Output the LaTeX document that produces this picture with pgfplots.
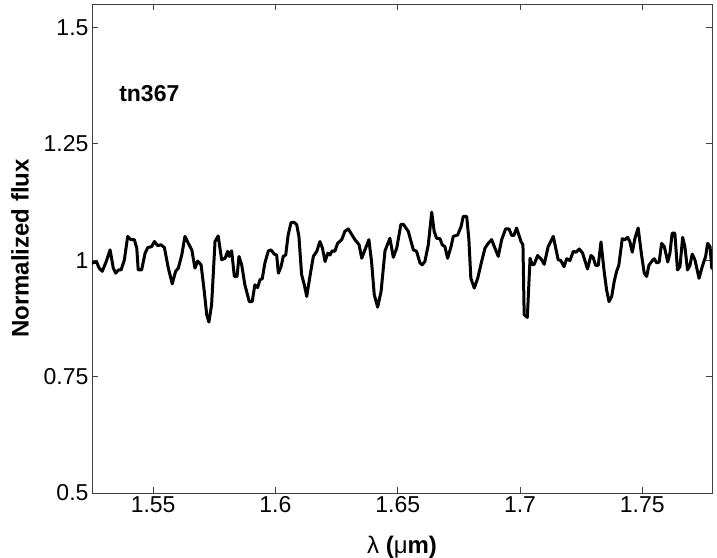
\documentclass[border=0pt]{standalone}
\usepackage{fontspec}
\setmainfont{Liberation Sans}
\usepackage{pgfplots}
\pgfplotsset{compat=1.18}

\pgfplotstableread{
x y
1.5240 0.992
1.5250 0.994
1.5269 0.996
1.5279 0.983
1.5292 0.976
1.5306 0.994
1.5324 1.022
1.5337 0.983
1.5347 0.972
1.5358 0.979
1.5369 0.979
1.5382 1.000
1.5396 1.051
1.5409 1.044
1.5423 1.044
1.5433 1.026
1.5439 0.979
1.5453 0.979
1.5467 1.015
1.5478 1.027
1.5494 1.029
1.5505 1.040
1.5519 1.031
1.5532 1.033
1.5546 1.027
1.5562 0.983
1.5578 0.949
1.5592 0.976
1.5603 0.983
1.5617 1.011
1.5630 1.051
1.5644 1.036
1.5658 1.022
1.5671 0.983
1.5682 0.998
1.5696 0.990
1.5709 0.933
1.5719 0.883
1.5728 0.867
1.5739 0.904
1.5753 1.040
1.5766 1.052
1.5780 1.001
1.5794 1.004
1.5805 1.019
1.5811 1.008
1.5821 1.020
1.5832 0.965
1.5843 0.965
1.5851 1.008
1.5862 0.990
1.5875 0.947
1.5893 0.911
1.5905 0.911
1.5916 0.947
1.5927 0.941
1.5937 0.958
1.5946 0.960
1.5957 0.994
1.5971 1.020
1.5982 1.022
1.5995 1.013
1.6005 1.011
1.6012 0.972
1.6023 0.986
1.6032 1.008
1.6042 1.011
1.6052 1.054
1.6064 1.081
1.6077 1.081
1.6087 1.076
1.6096 1.051
1.6107 0.969
1.6118 0.947
1.6128 0.922
1.6141 0.965
1.6155 1.008
1.6169 1.019
1.6182 1.040
1.6192 1.026
1.6203 0.997
1.6214 1.015
1.6223 1.011
1.6232 1.020
1.6243 1.019
1.6254 1.036
1.6271 1.044
1.6284 1.062
1.6298 1.067
1.6312 1.055
1.6325 1.044
1.6342 1.033
1.6353 1.004
1.6366 1.022
1.6382 1.044
1.6393 0.997
1.6404 0.926
1.6418 0.899
1.6432 0.933
1.6448 1.020
1.6468 1.047
1.6482 1.006
1.6496 1.026
1.6513 1.077
1.6523 1.077
1.6543 1.062
1.6564 1.022
1.6577 1.019
1.6591 0.994
1.6600 0.990
1.6611 0.997
1.6625 1.033
1.6639 1.103
1.6649 1.062
1.6659 1.047
1.6673 1.046
1.6682 1.033
1.6693 1.029
1.6704 1.004
1.6718 1.029
1.6727 1.051
1.6745 1.054
1.6759 1.072
1.6768 1.094
1.6782 1.094
1.6791 1.044
1.6799 0.961
1.6813 0.940
1.6827 0.961
1.6843 0.997
1.6857 1.026
1.6870 1.036
1.6884 1.044
1.6895 1.029
1.6911 1.008
1.6925 1.044
1.6941 1.067
1.6955 1.067
1.6966 1.053
1.6975 1.053
1.6986 1.069
1.7004 1.040
1.7012 1.033
1.7017 0.883
1.7030 0.877
1.7041 1.004
1.7050 0.990
1.7058 0.991
1.7072 1.010
1.7088 1.001
1.7099 0.991
1.7115 1.029
1.7136 1.051
1.7156 1.001
1.7167 0.999
1.7180 0.986
1.7191 1.003
1.7204 0.999
1.7218 1.019
1.7229 1.017
1.7242 1.024
1.7256 1.015
1.7276 0.981
1.7290 1.010
1.7299 1.006
1.7309 0.989
1.7320 0.989
1.7331 1.039
1.7344 0.976
1.7354 0.936
1.7364 0.911
1.7375 0.922
1.7385 0.954
1.7395 0.976
1.7404 0.989
1.7418 1.046
1.7429 1.044
1.7440 1.049
1.7449 1.040
1.7459 1.017
1.7470 1.047
1.7483 1.069
1.7497 1.011
1.7508 0.972
1.7518 0.965
1.7527 0.989
1.7538 0.997
1.7549 1.003
1.7559 0.994
1.7569 0.996
1.7579 1.036
1.7590 1.029
1.7604 0.996
1.7613 1.015
1.7622 1.058
1.7633 1.058
1.7644 0.979
1.7654 0.986
1.7665 1.049
1.7674 1.029
1.7685 0.979
1.7695 0.989
1.7704 1.013
1.7715 1.001
1.7732 0.961
1.7745 0.986
1.7759 1.008
1.7767 1.036
1.7777 1.029
1.7784 0.983
1.7795 0.980
}\spectrum

\begin{document}
\begin{tikzpicture}
\begin{axis}[
  name=ax, at={(0pt,0pt)}, anchor=south west,
  scale only axis,
  width=620pt, height=489pt,
  xmin=1.525, xmax=1.7785,
  ymin=0.5, ymax=1.55,
  xtick={1.55,1.6,...,1.75},
  ytick={0.5,0.75,1,1.25,1.5},
  tick align=inside,
  major tick length=6pt,
  axis line style={black!75, line width=0.8pt},
  every tick/.style={black!75, line width=0.6pt},
  /pgf/number format/assume math mode=true,
  tick label style={font=\fontsize{23}{26}\selectfont},
  label style={font=\fontsize{24}{28}\selectfont\bfseries},
  xlabel={\mdseries λ\bfseries\ (\mdseries μ\bfseries m)},
  ylabel={Normalized flux},
  xlabel style={yshift=-16pt},
  ylabel style={yshift=8pt},
]
\addplot[black, line width=3pt, line join=round] table[x=x, y=y] {\spectrum};
\node[anchor=base west, font=\fontsize{23}{26}\selectfont\bfseries] at (axis cs:1.5347,1.341) {tn367};
\end{axis}
\pgfresetboundingbox
\path[use as bounding box] (-92pt,-64pt) rectangle (625pt,493pt);
\end{tikzpicture}
\end{document}
